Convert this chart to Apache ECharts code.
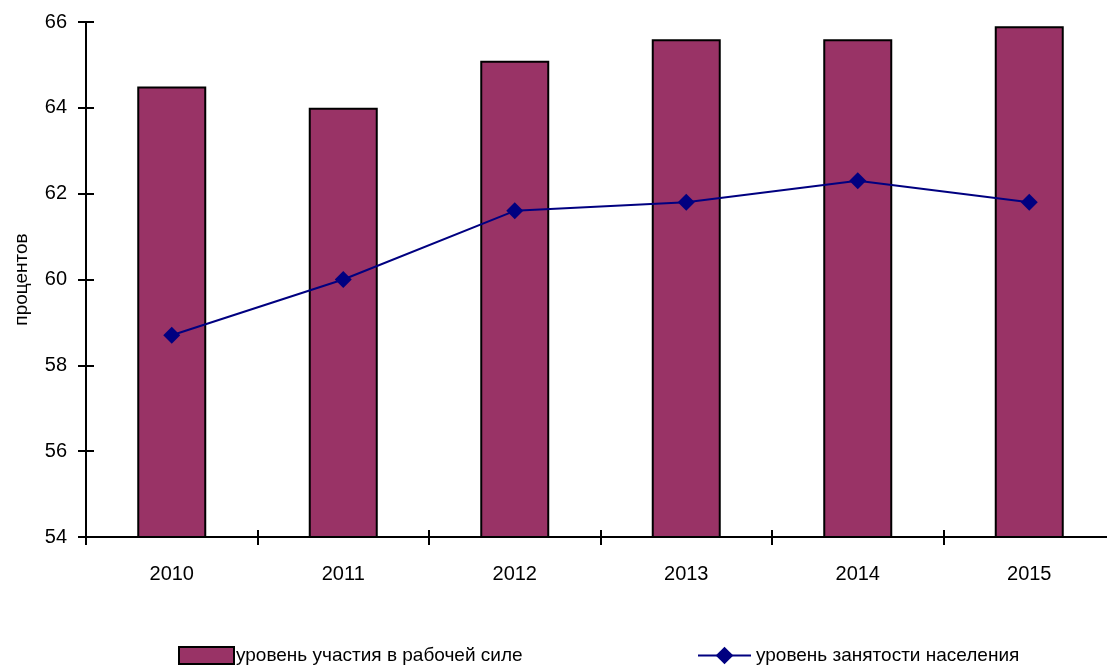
<!DOCTYPE html>
<html><head><meta charset="utf-8">
<script src="https://cdn.jsdelivr.net/npm/echarts@6/dist/echarts.min.js"></script>
<style>html,body{margin:0;padding:0;background:#fff;overflow:hidden;width:1107px;height:666px}#c{width:1115px;height:666px}</style>
</head><body><div id="c"></div>
<script>
const years = ['2010','2011','2012','2013','2014','2015'];
const participation = [64.5, 64.0, 65.1, 65.6, 65.6, 65.9];
const employment = [58.7, 60.0, 61.6, 61.8, 62.3, 61.8];
const nameBar = 'уровень участия в рабочей силе';
const nameLine = 'уровень занятости населения';
const yTitle = 'процентов';

const font = '"Liberation Sans", Arial, sans-serif';
const chart = echarts.init(document.getElementById('c'));
const xBase = {type:'category', data: years, boundaryGap:true,
  axisLine:{lineStyle:{color:'#000', width:2}}, splitLine:{show:false}};
const yBase = {type:'value', min:54, max:66, interval:2, scale:true,
  axisLine:{show:true, lineStyle:{color:'#000', width:2}}, splitLine:{show:false}};
chart.setOption({
  animation:false,
  grid:{left:86, top:22, right:0, bottom:129},
  legend:[
    {left:173, top:641, itemWidth:55, itemHeight:17, icon:'rect', data:[nameBar],
     itemStyle:{borderColor:'#000', borderWidth:2},
     textStyle:{fontFamily:font, fontSize:19, color:'#000', padding:[0,0,0,-3]}},
    {left:692, top:641, itemWidth:53, itemHeight:22, data:[nameLine],
     textStyle:{fontFamily:font, fontSize:19, color:'#000'}}
  ],
  xAxis:[
    Object.assign({}, xBase, {axisTick:{show:true, inside:false, length:8, lineStyle:{color:'#000', width:2}},
      axisLabel:{fontFamily:font, fontSize:20, color:'#000', margin:27}}),
    Object.assign({}, xBase, {position:'bottom', axisTick:{show:true, inside:true, length:7, lineStyle:{color:'#000', width:2}},
      axisLabel:{show:false}})
  ],
  yAxis:[
    Object.assign({}, yBase, {name: yTitle, nameLocation:'middle', nameGap:55, nameRotate:90,
      nameTextStyle:{fontFamily:font, fontSize:19, color:'#000'},
      axisTick:{show:true, inside:false, length:8, lineStyle:{color:'#000', width:2}},
      axisLabel:{fontFamily:font, fontSize:20, color:'#000', margin:19}}),
    Object.assign({}, yBase, {position:'left', axisTick:{show:true, inside:true, length:8, lineStyle:{color:'#000', width:2}},
      axisLabel:{show:false}})
  ],
  series:[
    {name:nameBar, type:'bar', data: participation, barWidth:69,
     itemStyle:{color:'#993366', borderColor:'#000', borderWidth:2}},
    {name:nameLine, type:'line', data: employment, symbol:'diamond', symbolSize:17,
     lineStyle:{color:'#000080', width:2}, itemStyle:{color:'#000080'}}
  ]
});
</script></body></html>
